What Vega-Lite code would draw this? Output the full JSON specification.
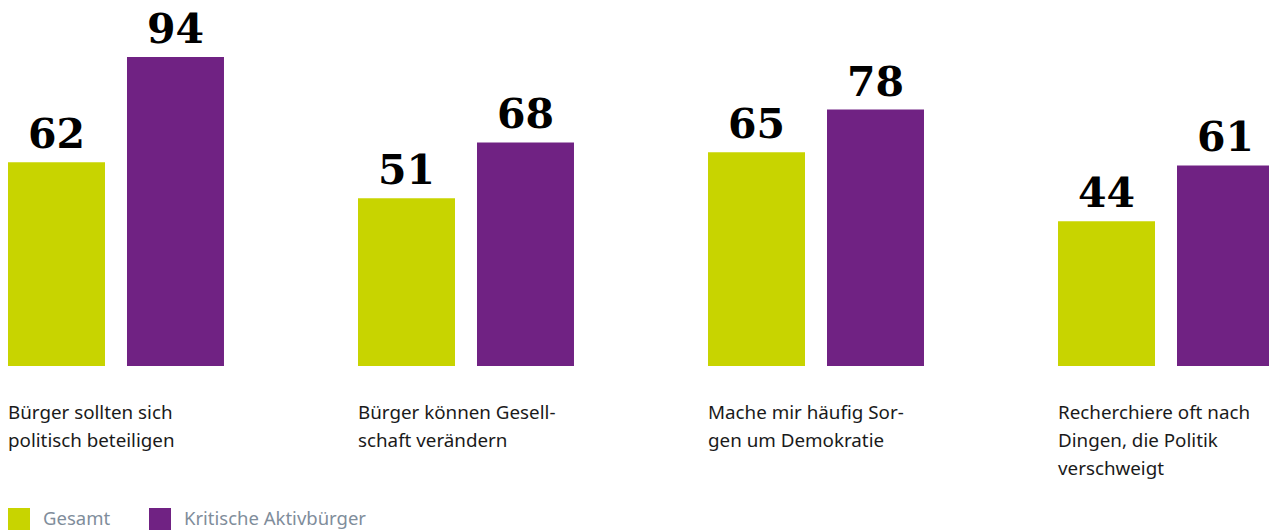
{
  "$schema": "https://vega.github.io/schema/vega-lite/v6.json",
  "width": 1269,
  "height": 366,
  "autosize": "none",
  "padding": {"left": 0, "top": 0, "right": 0, "bottom": 165},
  "config": {"view": {"stroke": null}},
  "data": {
    "values": [
      {"cat": "Bürger sollten sich|politisch beteiligen", "series": "Gesamt", "value": 62},
      {"cat": "Bürger sollten sich|politisch beteiligen", "series": "Kritische Aktivbürger", "value": 94},
      {"cat": "Bürger können Gesell-|schaft verändern", "series": "Gesamt", "value": 51},
      {"cat": "Bürger können Gesell-|schaft verändern", "series": "Kritische Aktivbürger", "value": 68},
      {"cat": "Mache mir häufig Sor-|gen um Demokratie", "series": "Gesamt", "value": 65},
      {"cat": "Mache mir häufig Sor-|gen um Demokratie", "series": "Kritische Aktivbürger", "value": 78},
      {"cat": "Recherchiere oft nach|Dingen, die Politik|verschweigt", "series": "Gesamt", "value": 44},
      {"cat": "Recherchiere oft nach|Dingen, die Politik|verschweigt", "series": "Kritische Aktivbürger", "value": 61}
    ]
  },
  "encoding": {
    "x": {
      "field": "cat",
      "type": "nominal",
      "sort": null,
      "scale": {"range": [8, 1274], "paddingInner": 0.3829, "paddingOuter": 0},
      "axis": null
    },
    "xOffset": {
      "field": "series",
      "type": "nominal",
      "scale": {"paddingInner": 0.1849, "paddingOuter": 0}
    }
  },
  "layer": [
    {
      "mark": {"type": "bar"},
      "encoding": {
        "y": {
          "field": "value",
          "type": "quantitative",
          "scale": {"domain": [0, 111.34], "nice": false, "zero": true},
          "axis": null
        },
        "color": {
          "field": "series",
          "type": "nominal",
          "scale": {"domain": ["Gesamt", "Kritische Aktivbürger"], "range": ["#c8d400", "#702283"]},
          "legend": {
            "title": null,
            "orient": "none",
            "legendX": 8,
            "legendY": 508,
            "direction": "horizontal",
            "padding": 0,
            "symbolType": "square",
            "symbolSize": 484,
            "symbolStrokeWidth": 0,
            "symbolOpacity": 1,
            "labelFont": "Noto Sans",
            "labelFontSize": 18.5,
            "labelColor": "#7f8d9b",
            "labelOffset": 13,
            "labelLimit": 0,
            "columnPadding": 38
          }
        }
      }
    },
    {
      "mark": {"type": "text", "font": "DejaVu Serif", "fontWeight": "bold", "fontSize": 41, "baseline": "alphabetic", "dy": -14, "color": "#000000"},
      "encoding": {
        "y": {"field": "value", "type": "quantitative"},
        "text": {"field": "value", "type": "quantitative"}
      }
    },
    {
      "transform": [{"filter": "datum.series === 'Gesamt'"}],
      "mark": {"type": "text", "font": "Noto Sans", "fontSize": 18.8, "align": "left", "baseline": "alphabetic", "dx": -48.5, "dy": 52.5, "lineBreak": "|", "lineHeight": 28, "color": "#1a1a1a"},
      "encoding": {
        "y": {"datum": 0, "type": "quantitative"},
        "text": {"field": "cat", "type": "nominal"}
      }
    }
  ]
}
